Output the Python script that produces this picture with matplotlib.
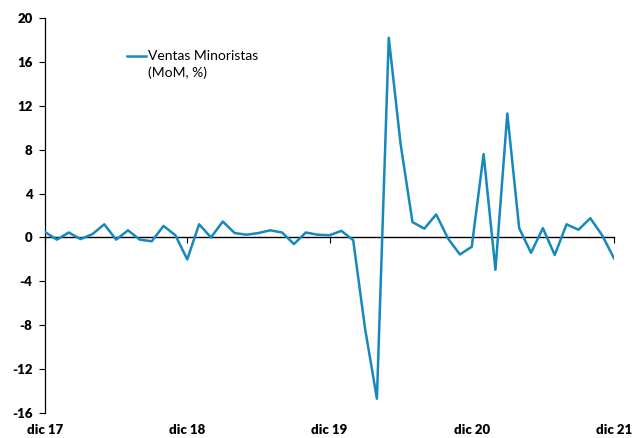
import numpy as np
from matplotlib import pyplot as plt

# Ventas minoristas, variacion mensual (%), dic 17 .. dic 21
ventas_mom = [
    0.5, -0.2, 0.45, -0.15, 0.3, 1.2, -0.2, 0.65, -0.2, -0.35, 1.05, 0.2,
    -2.0, 1.2, 0.0, 1.45, 0.4, 0.25, 0.4, 0.65, 0.45, -0.6, 0.45, 0.25,
    0.2, 0.6, -0.25, -8.3, -14.7, 18.2, 8.5, 1.4, 0.8, 2.1, -0.1, -1.55,
    -0.85, 7.6, -2.95, 11.3, 0.85, -1.4, 0.85, -1.6, 1.2, 0.7, 1.75, 0.2,
    -1.9,
]
tick_pos = [0, 12, 24, 36, 48]
tick_labels = ['dic 17', 'dic 18', 'dic 19', 'dic 20', 'dic 21']
y_ticks = list(range(-16, 21, 4))

plt.rcParams['font.family'] = ['Lato', 'DejaVu Sans']

fig = plt.figure(figsize=(6.33, 4.38), dpi=100)
ax = fig.add_axes([45 / 633, 1 - 413 / 438, (614 - 45) / 633, (413 - 18) / 438])

x = np.arange(len(ventas_mom))
ax.plot(x, ventas_mom, color='#1589be', lw=1.8, label='Ventas Minoristas', zorder=3)

ax.set_xlim(0, 48)
ax.set_ylim(-16, 20)
ax.set_yticks(y_ticks)
ax.set_yticklabels([str(v) for v in y_ticks], fontweight='heavy', fontsize=9.5)
ax.tick_params(axis='y', direction='out', length=4, width=0.8, pad=5)

for s in ['top', 'right']:
    ax.spines[s].set_visible(False)
ax.spines['left'].set_linewidth(0.9)
ax.spines['bottom'].set_position(('data', 0))
ax.spines['bottom'].set_linewidth(1.0)
ax.set_xticks(tick_pos)
ax.tick_params(axis='x', direction='out', length=4, width=0.8, labelbottom=False)

# labels at the bottom of the plot area
sec = ax.secondary_xaxis(0)
sec.set_xticks(tick_pos)
sec.set_xticklabels(tick_labels, fontweight='heavy', fontsize=9.5)
sec.tick_params(length=0, pad=8)
sec.spines['bottom'].set_visible(False)

leg = ax.legend(loc='upper left', bbox_to_anchor=(0.1335, 0.932), frameon=False,
                fontsize=10, handlelength=1.4, handletextpad=0.15, borderaxespad=0)
# second line of the legend entry, under the first
ax.annotate('(MoM, %)', xy=(0, 0), xycoords=leg.get_texts()[0],
            xytext=(0, -3), textcoords='offset points',
            ha='left', va='top', fontsize=10, zorder=10)

fig.savefig('out.png', dpi=100)
